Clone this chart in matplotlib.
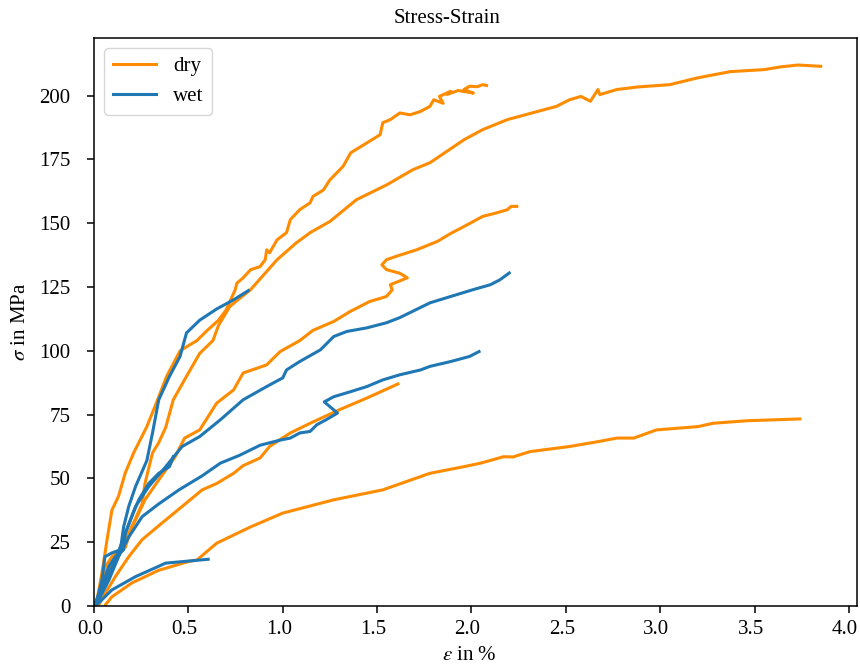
import matplotlib
matplotlib.use("Agg")
import matplotlib.pyplot as plt
from matplotlib.transforms import ScaledTranslation

plt.rcParams['font.family'] = ['serif']
plt.rcParams['font.serif'] = ['Liberation Serif', 'DejaVu Serif']
plt.rcParams['mathtext.fontset'] = 'stix'

# ---- dry specimens (strain %, stress MPa) ----
dry_a_x = [0.0, 0.016, 0.042, 0.069, 0.095, 0.13, 0.165, 0.21, 0.28, 0.33, 0.385, 0.456, 0.50, 0.545, 0.60, 0.66, 0.70, 0.748, 0.757, 0.79, 0.83, 0.88, 0.907, 0.915, 0.93, 0.97, 1.02, 1.04, 1.09, 1.145, 1.16, 1.215, 1.25, 1.32, 1.36, 1.446, 1.516, 1.53, 1.57, 1.62, 1.675, 1.73, 1.78, 1.80, 1.85, 1.83, 1.89, 1.87, 1.93, 2.01, 1.96, 1.99, 2.03, 2.06, 2.08]
dry_a_y = [0.0, 2.4, 12.9, 25.9, 37.6, 43.0, 52.0, 60.0, 70.3, 79.5, 90.0, 100.0, 102.0, 104.0, 108.0, 112.0, 116.0, 123.9, 126.5, 128.6, 131.8, 133.0, 135.7, 139.6, 138.4, 143.5, 146.3, 151.4, 155.3, 158.0, 160.5, 163.0, 167.0, 172.3, 177.6, 181.5, 184.7, 189.4, 190.6, 193.2, 192.5, 193.8, 195.8, 198.4, 197.0, 199.7, 201.7, 200.5, 202.0, 201.0, 202.4, 203.7, 203.5, 204.3, 204.0]

dry_b_x = [0.0, 0.025, 0.042, 0.06, 0.095, 0.166, 0.20, 0.255, 0.27, 0.31, 0.343, 0.38, 0.42, 0.49, 0.56, 0.63, 0.66, 0.72, 0.83, 0.97, 1.07, 1.145, 1.25, 1.39, 1.55, 1.69, 1.78, 1.96, 2.06, 2.19, 2.31, 2.45, 2.52, 2.58, 2.63, 2.67, 2.68, 2.77, 2.88, 3.05, 3.20, 3.37, 3.55, 3.64, 3.73, 3.85]
dry_b_y = [0.0, 1.2, 7.6, 15.4, 19.3, 23.0, 31.0, 40.0, 48.0, 60.0, 64.0, 70.0, 80.8, 90.0, 99.0, 104.0, 110.0, 117.4, 124.0, 135.7, 142.2, 146.3, 150.7, 159.2, 165.0, 171.0, 173.7, 182.7, 186.7, 190.6, 193.0, 195.8, 198.4, 199.7, 197.8, 202.4, 200.4, 202.4, 203.4, 204.3, 207.0, 209.4, 210.2, 211.3, 212.0, 211.5]

dry_c_x = [0.0, 0.025, 0.06, 0.095, 0.166, 0.22, 0.27, 0.343, 0.43, 0.48, 0.56, 0.65, 0.74, 0.79, 0.915, 0.986, 1.09, 1.16, 1.27, 1.357, 1.46, 1.55, 1.58, 1.57, 1.66, 1.62, 1.55, 1.525, 1.55, 1.60, 1.71, 1.82, 1.89, 1.96, 2.06, 2.13, 2.19, 2.21, 2.24]
dry_c_y = [0.0, 1.2, 9.0, 16.8, 26.0, 33.7, 41.6, 49.4, 58.5, 65.8, 69.0, 79.5, 84.7, 91.3, 94.5, 99.7, 104.0, 108.0, 111.5, 115.4, 119.3, 121.3, 123.9, 125.9, 128.6, 130.4, 131.8, 133.7, 135.7, 137.0, 139.6, 142.9, 146.0, 148.7, 152.7, 154.0, 155.3, 156.6, 156.6]

dry_d_x = [0.025, 0.06, 0.113, 0.184, 0.255, 0.36, 0.467, 0.573, 0.65, 0.74, 0.79, 0.88, 0.93, 1.04, 1.145, 1.30, 1.446, 1.61]
dry_d_y = [0.4, 5.0, 11.5, 19.3, 26.0, 32.5, 39.0, 45.5, 48.0, 52.0, 55.0, 58.0, 62.5, 67.8, 71.6, 76.9, 81.5, 87.0]

dry_e_x = [0.06, 0.095, 0.20, 0.343, 0.50, 0.545, 0.65, 0.83, 1.0, 1.27, 1.53, 1.78, 1.96, 2.05, 2.17, 2.22, 2.31, 2.52, 2.67, 2.77, 2.86, 2.98, 3.20, 3.28, 3.46, 3.74]
dry_e_y = [0.4, 3.6, 9.0, 14.0, 17.4, 18.0, 24.6, 31.0, 36.4, 41.6, 45.5, 52.0, 54.6, 56.0, 58.5, 58.4, 60.5, 62.5, 64.4, 65.8, 65.8, 69.0, 70.3, 71.6, 72.6, 73.3]

# ---- wet specimens ----
wet_1_x = [0.0, 0.016, 0.042, 0.058, 0.095, 0.14, 0.157, 0.184, 0.22, 0.28, 0.31, 0.343, 0.40, 0.456, 0.49, 0.56, 0.65, 0.74, 0.818]
wet_1_y = [0.0, 2.4, 10.0, 19.3, 20.8, 22.0, 31.0, 39.0, 46.8, 57.0, 67.8, 80.8, 90.0, 97.8, 107.0, 112.0, 116.4, 120.0, 123.6]

wet_2_x = [0.0, 0.042, 0.113, 0.166, 0.22, 0.29, 0.38, 0.467, 0.56, 0.67, 0.79, 0.915, 1.0, 1.02, 1.09, 1.20, 1.27, 1.34, 1.446, 1.55, 1.62, 1.78, 1.89, 2.01, 2.10, 2.15, 2.20]
wet_2_y = [0.0, 6.3, 18.0, 28.5, 39.0, 46.8, 54.6, 62.5, 66.4, 73.0, 80.8, 86.0, 89.4, 92.5, 95.8, 100.4, 105.6, 107.6, 109.0, 111.0, 113.0, 118.8, 121.3, 124.0, 125.9, 127.8, 130.5]

wet_3_x = [0.0, 0.025, 0.078, 0.13, 0.184, 0.255, 0.343, 0.45, 0.573, 0.67, 0.77, 0.88, 0.986, 1.04, 1.09, 1.145, 1.18, 1.23, 1.29, 1.22, 1.27, 1.36, 1.446, 1.53, 1.62, 1.73, 1.78, 1.89, 1.99, 2.04]
wet_3_y = [0.0, 2.4, 10.0, 19.3, 27.0, 35.0, 40.0, 45.5, 51.0, 56.0, 59.0, 63.0, 65.0, 65.8, 67.8, 68.4, 71.0, 73.0, 75.6, 80.0, 82.0, 84.0, 86.0, 88.6, 90.6, 92.5, 93.9, 95.8, 97.8, 99.7]

wet_4_x = [0.0, 0.025, 0.095, 0.22, 0.38, 0.47, 0.605]
wet_4_y = [0.0, 1.2, 6.3, 11.5, 16.8, 17.4, 18.3]

wet_5_x = [0.0, 0.042, 0.078, 0.113, 0.157, 0.166, 0.20, 0.237, 0.29, 0.343, 0.40, 0.42]
wet_5_y = [0.0, 7.6, 15.4, 19.3, 22.0, 28.5, 35.0, 41.6, 48.0, 52.0, 54.6, 58.5]

x_ticks = [0.0, 0.5, 1.0, 1.5, 2.0, 2.5, 3.0, 3.5, 4.0]
y_ticks = [0, 25, 50, 75, 100, 125, 150, 175, 200]

dry_series = [(dry_a_x, dry_a_y), (dry_b_x, dry_b_y), (dry_c_x, dry_c_y),
              (dry_d_x, dry_d_y), (dry_e_x, dry_e_y)]
wet_series = [(wet_1_x, wet_1_y), (wet_2_x, wet_2_y), (wet_3_x, wet_3_y),
              (wet_4_x, wet_4_y), (wet_5_x, wet_5_y)]

fig = plt.figure(figsize=(8.6, 6.71), dpi=100)
ax = fig.add_axes([0.1093, 0.0969, 0.8872, 0.8465])

lw = 2.2
for i, (x, y) in enumerate(dry_series):
    ax.plot(x, y, color='darkorange', lw=lw, label='dry' if i == 0 else None)
for i, (x, y) in enumerate(wet_series):
    ax.plot(x, y, color='tab:blue', lw=lw, label='wet' if i == 0 else None)

ax.set_xlim(left=0)
ax.set_ylim(bottom=0)
ax.set_xticks(x_ticks)
ax.set_yticks(y_ticks)

fs = 15
fig.text(0.520, 0.987, 'Stress-Strain', fontsize=fs, ha='center', va='top')
ax.set_xlabel(r'$\varepsilon$ in %', fontsize=fs)
ax.set_ylabel(r'$\sigma$ in MPa', fontsize=fs)
ax.xaxis.set_label_coords(0.492, -0.070)
ax.yaxis.set_label_coords(-0.084, 0.5)
ax.tick_params(labelsize=fs, length=5, width=1.1)
ax.tick_params(axis='x', pad=5)
ax.tick_params(axis='y', pad=12)
for s in ax.spines.values():
    s.set_linewidth(1.1)

shift = ScaledTranslation(-4 / 100, 0, fig.dpi_scale_trans)
for lab in ax.get_xticklabels():
    lab.set_transform(lab.get_transform() + shift)

ax.legend(loc='upper left', fontsize=fs, handlelength=2.1, borderaxespad=0.5)

fig.savefig('out.png', dpi=100)
